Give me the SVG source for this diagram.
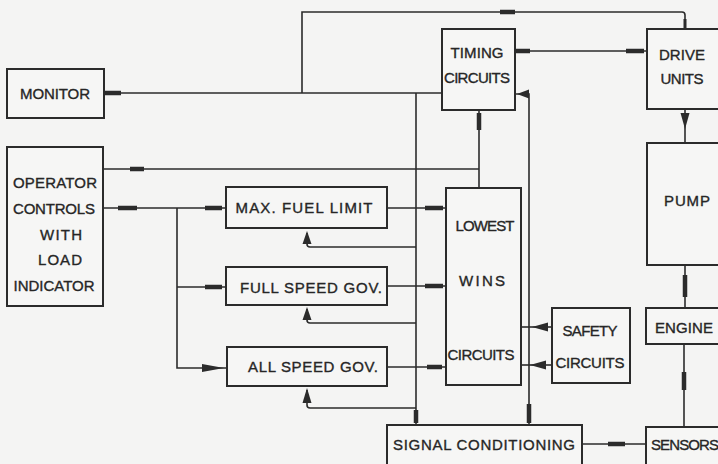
<svg xmlns="http://www.w3.org/2000/svg" width="718" height="464" viewBox="0 0 718 464">
<defs>
<style>
.bg{fill:#f4f4f3}
.box{fill:#f6f6f5;stroke:#2b2b2b;stroke-width:2}
.ln{fill:none;stroke:#2b2b2b;stroke-width:1.6}
.mk{fill:none;stroke:#2b2b2b;stroke-width:4.5}
.ah{fill:#2b2b2b}
text{font-family:"Liberation Sans",Arial,sans-serif;font-size:15px;fill:#262626;stroke:#262626;stroke-width:0.35;text-anchor:middle}
</style>
</defs>
<rect class="bg" x="0" y="0" width="718" height="464"/>

<g id="connectors">
  <!-- monitor to timing -->
  <path class="ln" d="M104,93 H442"/>
  <path class="mk" d="M104,93 H121"/>
  <!-- top loop to drive units -->
  <path class="ln" d="M302,93 V12 H682 Q685,12 685,15 V29"/>
  <path class="mk" d="M500,12 H515"/>
  <path class="mk" d="M685,19 V28" style="stroke-width:3"/>
  <!-- timing to drive -->
  <path class="ln" d="M515,51 H647"/>
  <path class="mk" d="M516,51 H530"/>
  <path class="mk" d="M626,51 H644"/>
  <!-- drive to pump -->
  <path class="ln" d="M685,109 V143"/>
  <polygon class="ah" points="680.5,113 689.5,113 685,129"/>
  <!-- pump to engine -->
  <path class="ln" d="M685,265 V308"/>
  <path class="mk" d="M685,275 V297"/>
  <!-- engine to sensors -->
  <path class="ln" d="M684,344 V427"/>
  <path class="mk" d="M684,372 V390"/>
  <!-- sensors to signal conditioning -->
  <path class="ln" d="M646,444 H582"/>
  <path class="mk" d="M608,444 H625"/>
  <!-- signal conditioning to timing -->
  <path class="ln" d="M529,425 V94 H515"/>
  <path class="mk" d="M529,404 V423"/>
  <polygon class="ah" points="517,94 529,89.5 529,98.5"/>
  <!-- signal conditioning feedback bus -->
  <path class="ln" d="M416,425 V93"/>
  <path class="mk" d="M416,410 V423"/>
  <path class="ln" d="M416,247 H310 Q307,247 307,244 V233"/>
  <polygon class="ah" points="307,231 302.5,244 311.5,244"/>
  <path class="ln" d="M416,323 H310 Q307,323 307,320 V309"/>
  <polygon class="ah" points="307,307 302.5,320 311.5,320"/>
  <path class="ln" d="M416,408 H310 Q307,408 307,405 V390"/>
  <polygon class="ah" points="307,388 302.5,403 311.5,403"/>
  <!-- operator to timing/lowest wins link -->
  <path class="ln" d="M103,169 H479"/>
  <path class="mk" d="M130,169 H144"/>
  <!-- timing to lowest wins -->
  <path class="ln" d="M479,110 V188"/>
  <path class="mk" d="M479,113 V130"/>
  <!-- operator to governors -->
  <path class="ln" d="M103,208 H226"/>
  <path class="mk" d="M118,208 H137"/>
  <path class="mk" d="M205,208 H222"/>
  <path class="ln" d="M177,208 V368 H227"/>
  <path class="ln" d="M177,287 H226"/>
  <path class="mk" d="M205,287 H222"/>
  <polygon class="ah" points="224,368 202,364 202,372"/>
  <!-- governors to lowest wins -->
  <path class="ln" d="M387,208 H446"/>
  <path class="mk" d="M425,208 H443"/>
  <path class="ln" d="M387,286 H446"/>
  <path class="mk" d="M425,286 H443"/>
  <path class="ln" d="M387,367 H446"/>
  <path class="mk" d="M427,367 H442"/>
  <!-- lowest wins and safety -->
  <path class="ln" d="M521,327 H552"/>
  <polygon class="ah" points="532,327 548,322.5 548,331.5"/>
  <path class="ln" d="M521,365 H552"/>
  <polygon class="ah" points="530,365 546,360.5 546,369.5"/>
</g>

<g id="monitor">
  <rect class="box" x="7" y="69" width="97" height="49"/>
  <text x="55" y="99" textLength="70">MONITOR</text>
</g>
<g id="timing">
  <rect class="box" x="442" y="29" width="73" height="81"/>
  <text x="477" y="58" textLength="53">TIMING</text>
  <text x="477" y="83" textLength="66">CIRCUITS</text>
</g>
<g id="drive">
  <rect class="box" x="647" y="29" width="80" height="80"/>
  <text x="682" y="60" textLength="46">DRIVE</text>
  <text x="682" y="84" textLength="43">UNITS</text>
</g>
<g id="pump">
  <rect class="box" x="647" y="143" width="80" height="122"/>
  <text x="687" y="206" textLength="46">PUMP</text>
</g>
<g id="engine">
  <rect class="box" x="646" y="308" width="80" height="36"/>
  <text x="684" y="333" textLength="58">ENGINE</text>
</g>
<g id="sensors">
  <rect class="box" x="646" y="427" width="80" height="42"/>
  <text x="685" y="450" textLength="68">SENSORS</text>
</g>
<g id="signal">
  <rect class="box" x="387" y="425" width="195" height="42"/>
  <text x="484" y="450" textLength="182">SIGNAL CONDITIONING</text>
</g>
<g id="safety">
  <rect class="box" x="552" y="308" width="78" height="75"/>
  <text x="590" y="336" textLength="55">SAFETY</text>
  <text x="590" y="368" textLength="69">CIRCUITS</text>
</g>
<g id="lowest">
  <rect class="box" x="446" y="188" width="75" height="197"/>
  <text x="485" y="231" textLength="59">LOWEST</text>
  <text x="482" y="286" textLength="46">WINS</text>
  <text x="481" y="360" textLength="67">CIRCUITS</text>
</g>
<g id="operator">
  <rect class="box" x="7" y="147" width="96" height="159"/>
  <text x="55" y="188" textLength="84">OPERATOR</text>
  <text x="54" y="214" textLength="82">CONTROLS</text>
  <text x="61" y="240" textLength="42">WITH</text>
  <text x="60" y="265" textLength="44">LOAD</text>
  <text x="54" y="291" textLength="81">INDICATOR</text>
</g>
<g id="maxfuel">
  <rect class="box" x="226" y="187" width="161" height="41"/>
  <text x="304" y="213" textLength="137">MAX. FUEL LIMIT</text>
</g>
<g id="fullspeed">
  <rect class="box" x="226" y="267" width="161" height="38"/>
  <text x="311" y="293" textLength="142">FULL SPEED GOV.</text>
</g>
<g id="allspeed">
  <rect class="box" x="227" y="347" width="160" height="39"/>
  <text x="313" y="372" textLength="130">ALL  SPEED GOV.</text>
</g>
</svg>
